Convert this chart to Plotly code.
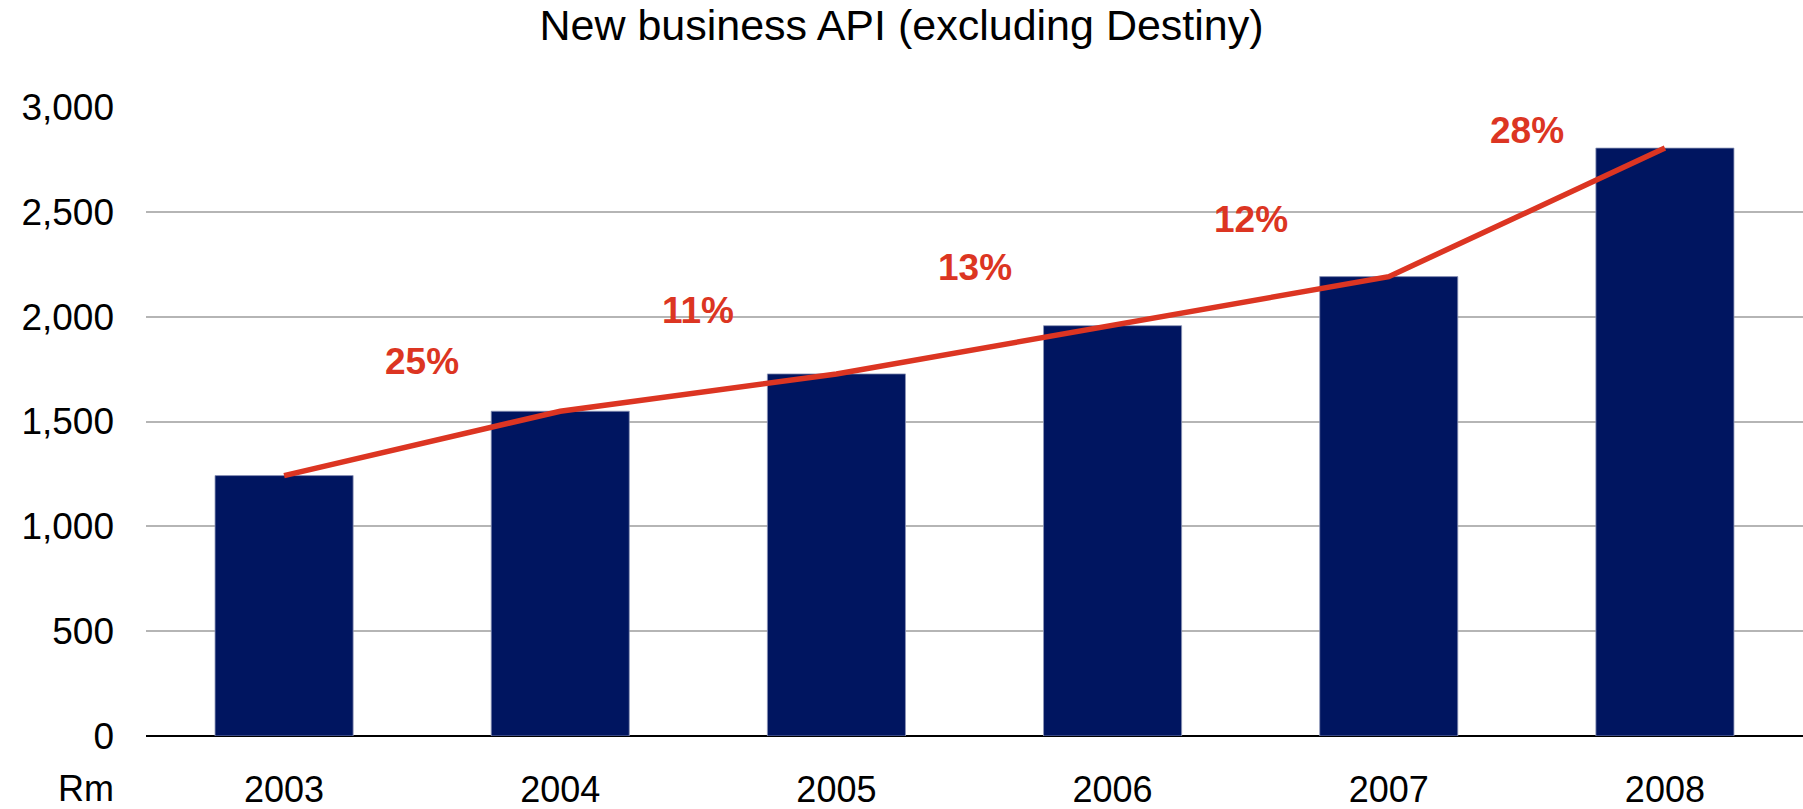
import plotly.graph_objects as go

# New business API by year, Rm
years = ["2003", "2004", "2005", "2006", "2007", "2008"]
api_values = [1242, 1549, 1727, 1957, 2191, 2804]
growth_labels = ["25%", "11%", "13%", "12%", "28%"]
y_ticks = [0, 500, 1000, 1500, 2000, 2500, 3000]

BAR_COLOR = "#001560"
LINE_COLOR = "#DC3522"
FONT = "Liberation Sans, Arial, sans-serif"

fig = go.Figure()

fig.add_trace(go.Bar(
    x=years,
    y=api_values,
    marker=dict(color=BAR_COLOR, line=dict(color="#8d96b8", width=0.8)),
    hoverinfo="skip",
))

fig.add_trace(go.Scatter(
    x=years,
    y=api_values,
    mode="lines",
    line=dict(color=LINE_COLOR, width=5.5),
    hoverinfo="skip",
))

# Year-on-year growth labels, centred between consecutive years above the line
for i, label in enumerate(growth_labels):
    mid_y = (api_values[i] + api_values[i + 1]) / 2
    fig.add_annotation(
        x=i + 0.5, y=mid_y, xref="x", yref="y",
        text=f"<b>{label}</b>", showarrow=False,
        yshift=82,
        font=dict(family=FONT, size=37, color=LINE_COLOR),
    )

fig.add_annotation(
    x=0, y=0, xref="paper", yref="paper",
    text="Rm", showarrow=False,
    xanchor="right", yanchor="middle",
    xshift=-30, yshift=-52,
    font=dict(family=FONT, size=36, color="#000000"),
)

fig.update_layout(
    width=1803, height=809,
    margin=dict(l=146, r=0, t=107, b=73),
    paper_bgcolor="white", plot_bgcolor="white",
    showlegend=False,
    bargap=0.5,
    title=dict(
        text="New business API (excluding Destiny)",
        x=0.5, xanchor="center",
        y=1 - 25 / 809, yanchor="middle",
        font=dict(family=FONT, size=43, color="#000000"),
    ),
    font=dict(family=FONT, size=36, color="#000000"),
)

fig.update_xaxes(
    type="category",
    range=[-0.5, 5.5],
    showgrid=False,
    showline=False,
    ticks="",
    ticklabelstandoff=29,
    tickfont=dict(family=FONT, size=36, color="#000000"),
)

fig.update_yaxes(
    range=[0, 3000],
    tickvals=y_ticks,
    tickformat=",d",
    showgrid=True,
    gridcolor="#b5b5b5",
    gridwidth=2,
    zeroline=True,
    zerolinecolor="#000000",
    zerolinewidth=2,
    showline=False,
    ticks="",
    ticklabelstandoff=31,
    tickfont=dict(family=FONT, size=37, color="#000000"),
)

fig.write_html("out.html")
